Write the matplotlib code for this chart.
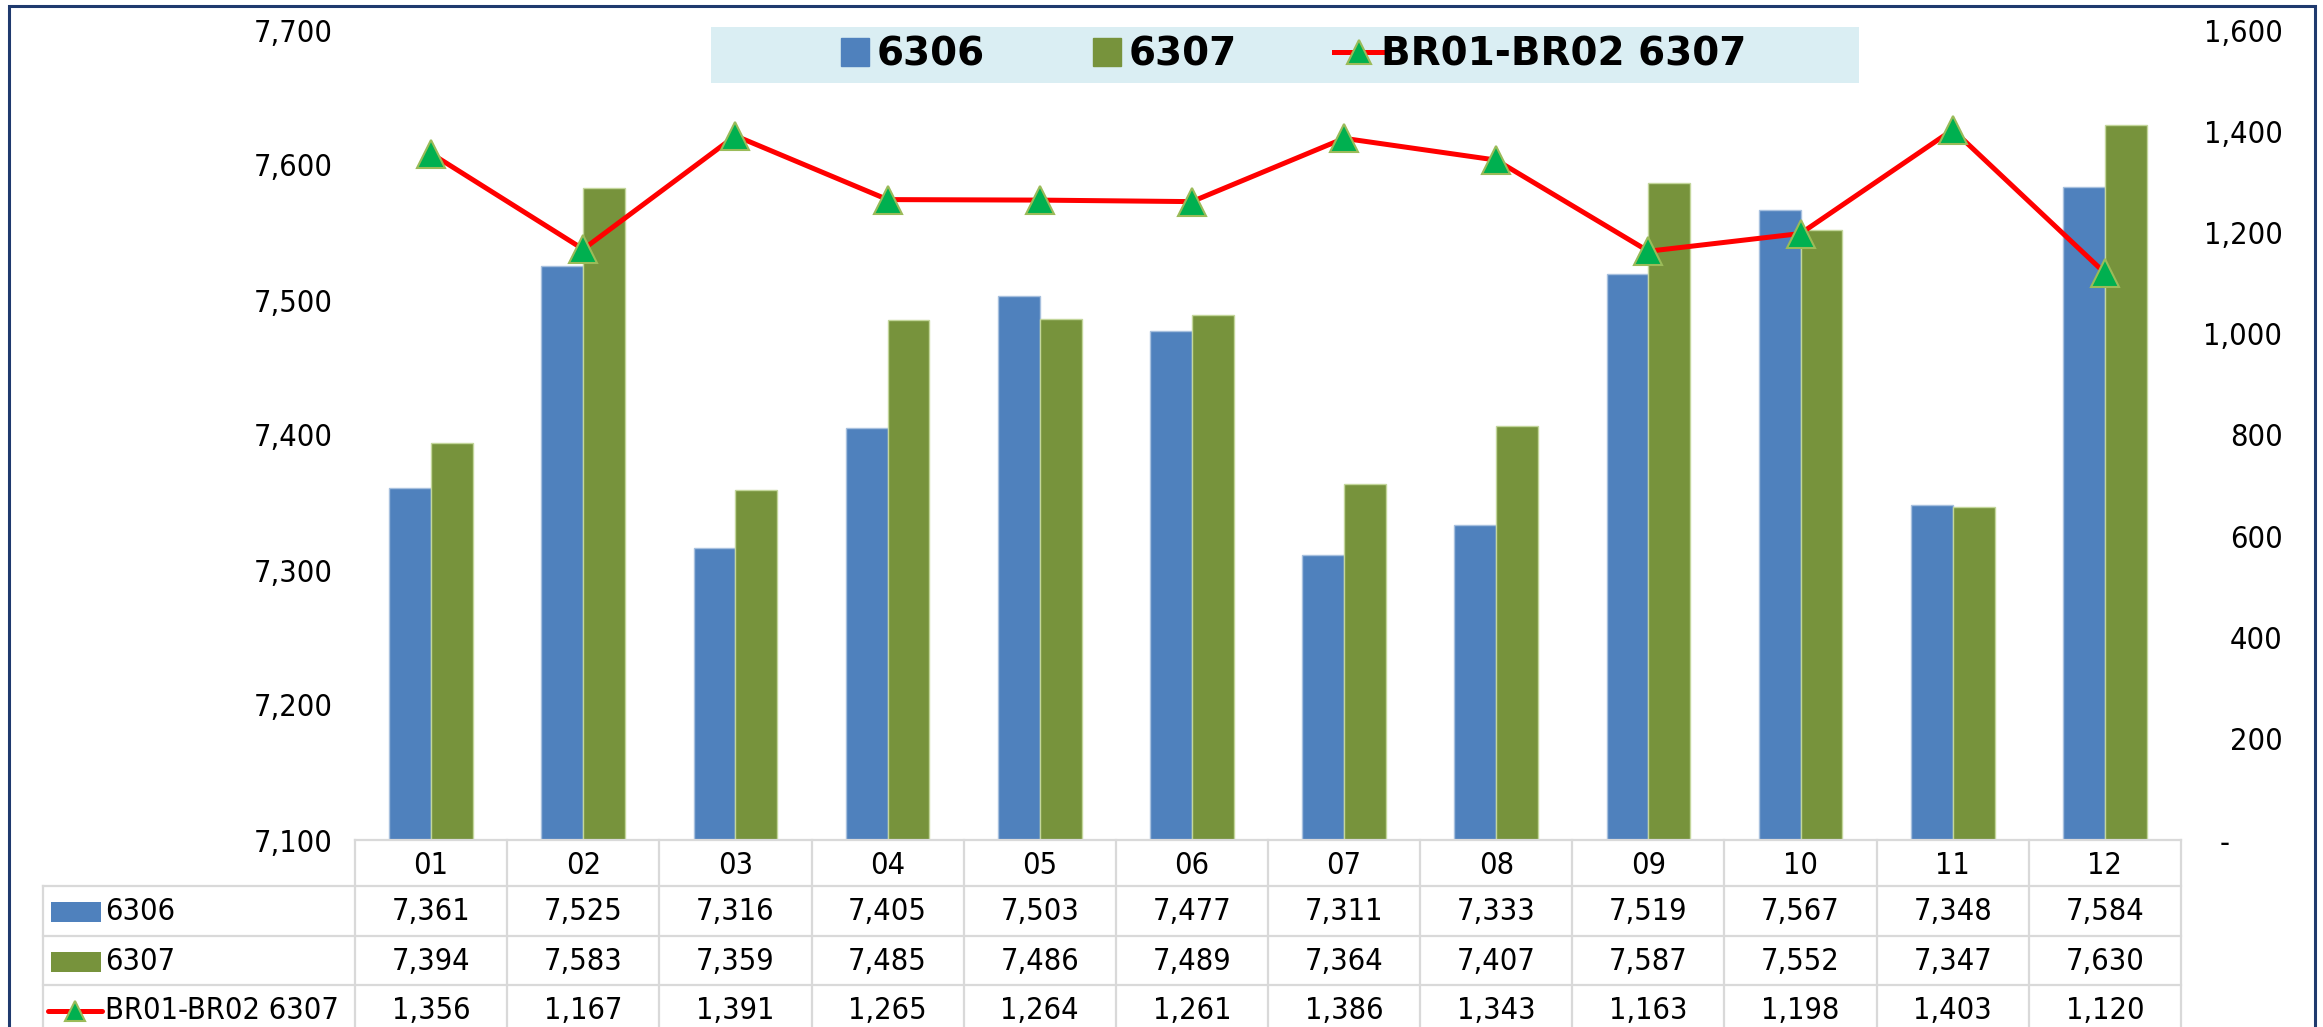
import numpy as np
import matplotlib
matplotlib.use("Agg")
import matplotlib.pyplot as plt
from matplotlib import font_manager
from matplotlib.patches import Rectangle
from matplotlib.lines import Line2D
from matplotlib.ticker import FuncFormatter
import matplotlib.transforms as mtransforms

months = ['01', '02', '03', '04', '05', '06', '07', '08', '09', '10', '11', '12']
s6306 = [7361, 7525, 7316, 7405, 7503, 7477, 7311, 7333, 7519, 7567, 7348, 7584]
s6307 = [7394, 7583, 7359, 7485, 7486, 7489, 7364, 7407, 7587, 7552, 7347, 7630]
br6307 = [1356, 1167, 1391, 1265, 1264, 1261, 1386, 1343, 1163, 1198, 1403, 1120]
series_names = ['6306', '6307', 'BR01-BR02 6307']

BLUE = '#4F81BD'
GREEN = '#77933C'
RED = '#FF0000'
MARK = '#00B050'
MARK_EDGE = '#9BBB59'
GRID = '#D9D9D9'
NAVY = '#1F3A6E'

has_cond = any(f.name == 'DejaVu Sans' and f.stretch == 'condensed'
               for f in font_manager.fontManager.ttflist)
plt.rcParams['font.family'] = ['DejaVu Sans']
if has_cond:
    plt.rcParams['font.stretch'] = 'condensed'
    FS = 22
else:
    FS = 20.5

W, H = 2323, 1027
def fx(px):
    return px / W
def fy(py):
    return 1 - py / H

fig = plt.figure(figsize=(W / 100, H / 100), dpi=100)

# main plot area
ax = fig.add_axes([fx(355), fy(840), fx(2181) - fx(355), fy(30) - fy(840)])
ax.patch.set_visible(False)
x = np.arange(len(months))
w = 0.275
b1 = ax.bar(x - w / 2, s6306, w, color=BLUE, edgecolor='#A7C0DE', linewidth=1)
b2 = ax.bar(x + w / 2, s6307, w, color=GREEN, edgecolor='#C3D69B', linewidth=1)
ax.set_xlim(-0.5, len(months) - 0.5)
ax.set_ylim(7100, 7700)
ax.set_yticks(range(7100, 7701, 100))
ax.yaxis.set_major_formatter(FuncFormatter(lambda v, p: f'{v:,.0f}'))
ax.set_xticks([])
ax.tick_params(axis='y', length=0, pad=16, labelsize=FS)
for s in ax.spines.values():
    s.set_visible(False)

ax2 = ax.twinx()
ax2.patch.set_visible(False)
ln, = ax2.plot(x, br6307, color=RED, lw=3.6, marker='^', markersize=19.5,
               markerfacecolor=MARK, markeredgecolor=MARK_EDGE, markeredgewidth=1.5,
               solid_joinstyle='round')
ax2.set_ylim(0, 1600)
ax2.set_yticks(range(0, 1601, 200))
ax2.yaxis.set_major_formatter(FuncFormatter(lambda v, p: '-      ' if v == 0 else f'{v:,.0f}'))
ax2.tick_params(axis='y', length=0, pad=73, labelsize=FS)
for lab in ax2.get_yticklabels():
    lab.set_horizontalalignment('right')
for s in ax2.spines.values():
    s.set_visible(False)

# legend with light-blue band
fig.add_artist(Rectangle((fx(711), fy(83)), fx(1859) - fx(711), fy(27) - fy(83),
                         transform=fig.transFigure, facecolor='#DAEEF3', edgecolor='none', zorder=-1))
k1 = Line2D([], [], linestyle='none', marker='s', markersize=20, color=BLUE)
k2 = Line2D([], [], linestyle='none', marker='s', markersize=20, color=GREEN)
k3 = Line2D([], [], color=RED, lw=3.6, marker='^', markersize=17,
            markerfacecolor=MARK, markeredgecolor=MARK_EDGE, markeredgewidth=1.5)
fig.legend([k1, k2, k3], series_names, loc='center', bbox_to_anchor=(fx(1288), fy(55)),
           ncol=3, frameon=False, handlelength=1.3, handletextpad=-0.1, numpoints=1,
           columnspacing=2.5,
           prop={'family': 'DejaVu Sans', 'stretch': 'normal', 'weight': 'bold', 'size': 28})

# data table below the plot
tr = mtransforms.blended_transform_factory(ax.transData, fig.transFigure)
row_y = [840, 886, 936, 985, 1034]
lw_grid = 1.6
for i, m in enumerate(months):
    ax.text(i, fy(865), m, transform=tr, ha='center', va='center', fontsize=FS)
rows = [s6306, s6307, br6307]
for r, vals in enumerate(rows):
    yc = fy((row_y[r + 1] + row_y[r + 2]) / 2 + 1)
    for i, v in enumerate(vals):
        ax.text(i, yc, f'{v:,}', transform=tr, ha='center', va='center', fontsize=FS)
    fig.text(fx(105), yc, series_names[r], ha='left', va='center', fontsize=FS)

for k in range(len(months) + 1):
    fig.add_artist(Line2D([k - 0.5, k - 0.5], [fy(840), fy(1034)], transform=tr,
                          color=GRID, lw=lw_grid))
fig.add_artist(Line2D([fx(355), fx(2181)], [fy(840), fy(840)], transform=fig.transFigure,
                      color=GRID, lw=lw_grid))
for yy in row_y[1:4]:
    fig.add_artist(Line2D([fx(43), fx(2181)], [fy(yy), fy(yy)], transform=fig.transFigure,
                          color=GRID, lw=lw_grid))
fig.add_artist(Line2D([fx(43), fx(43)], [fy(886), fy(1034)], transform=fig.transFigure,
                      color=GRID, lw=lw_grid))

# series keys in the table
for r, col in enumerate([BLUE, GREEN]):
    yc = (row_y[r + 1] + row_y[r + 2]) / 2 + 1
    fig.add_artist(Rectangle((fx(51), fy(yc + 10)), fx(101) - fx(51), fy(yc - 10) - fy(yc + 10),
                             transform=fig.transFigure, facecolor=col, edgecolor='none'))
yk = fy((row_y[3] + row_y[4]) / 2 + 1)
fig.add_artist(Line2D([fx(48), fx(102)], [yk, yk], transform=fig.transFigure, color=RED,
                      lw=3.6, solid_capstyle='round'))
fig.add_artist(Line2D([fx(75)], [yk], transform=fig.transFigure, marker='^', markersize=15,
                      markerfacecolor=MARK, markeredgecolor=MARK_EDGE, markeredgewidth=1.5))

# outer chart border
fig.add_artist(Rectangle((fx(9), fy(1060)), fx(2315) - fx(9), fy(6) - fy(1060),
                         transform=fig.transFigure, facecolor='none', edgecolor=NAVY, lw=2.2))

fig.savefig('out.png', dpi=100)
